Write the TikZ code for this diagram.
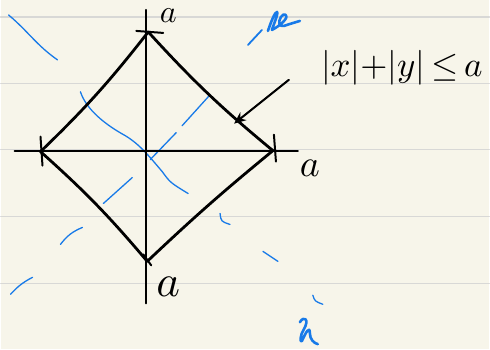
\documentclass[tikz,border=0pt]{standalone}
\usepackage{amsmath,amssymb,graphicx}
\usepackage{xcolor,tikz}
\usetikzlibrary{arrows.meta}
\definecolor{paper}{RGB}{247,245,234}
\definecolor{rule}{RGB}{216,216,214}
\definecolor{inkblue}{RGB}{24,122,232}
\newcommand{\inklbl}[2]{\scalebox{#1}{$#2$}}

\begin{document}
\begin{tikzpicture}[x=1pt,y=-1pt,line cap=round,line join=round,
  ink/.style={black,line width=2.8pt},
  axis/.style={black,line width=2pt},
  hint/.style={inkblue,line width=1.3pt},
  lbl/.style={inner sep=0pt}]
 \fill[paper] (0,0) rectangle (490,350);
 \foreach \y in {17,84,150,217,284}
   {\draw[rule,line width=1.2pt] (0,\y) -- (490,\y);}
 % blue marks
 \draw[hint] (8,15) to[out=-40,in=145] (57,60);
 \draw[hint] (80,92) .. controls (86,110) and (105,125) .. (125,136)
   .. controls (140,145) and (150,158) .. (162,172) .. controls (170,183) .. (188,194);
 \draw[hint] (150,160) -- (176,133);
 \draw[hint] (182,126) -- (210,95);
 \draw[hint] (103,204) -- (132,178);
 \draw[hint] (60,245) to[bend left=15] (82,228);
 \draw[hint] (10,295) to[bend left=10] (32,278);
 \draw[hint] (220,214) .. controls (221,222) .. (230,225);
 \draw[hint] (263,252) -- (278,262);
 \draw[hint] (313,296) .. controls (315,302) .. (323,305);
 \draw[inkblue,line width=1.8pt] (248,45) -- (262,30);
 \draw[inkblue,line width=2.6pt] (268,31) .. controls (271,22) and (275,12) .. (277,12)
   .. controls (279,13) and (273,26) .. (272,30) .. controls (276,28) and (282,24) .. (285,20)
   .. controls (289,15) and (284,12) .. (281,17) .. controls (278,22) and (279,27) .. (284,26)
   .. controls (290,24) .. (300,21);
 \draw[inkblue,line width=2.6pt] (300,323) .. controls (304,316) and (310,320) .. (304,330)
   .. controls (300,336) and (300,344) .. (302,342) .. controls (306,333) and (310,326) .. (310,334)
   .. controls (310,340) and (314,344) .. (318,345);
 % axes
 \coordinate (ytop) at (146,10);
 \coordinate (ybot) at (146,304);
 \coordinate (xl) at (14,151);
 \coordinate (xr) at (298,151);
 \draw[axis] (ybot) -- (ytop);
 \draw[axis] (xl) -- (xr);
 % diamond
 \coordinate (T) at (148,32);
 \coordinate (L) at (40,152);
 \coordinate (R) at (273,151);
 \coordinate (B) at (147,262);
 \draw[ink] (T) to[bend left=4] (L);
 \draw[ink] (L) to[bend left=4] (B);
 \draw[ink] (B) to[bend left=2] (R);
 \draw[ink] (R) to[bend left=4] (T);
 \draw[ink,line width=2pt] (136,31) -- (163,33);
 \draw[ink,line width=2pt] (40,137) -- (42,166);
 \draw[ink,line width=2pt] (274,135) -- (276,162);
 \draw[ink,line width=2pt] (143,255) -- (151,266);
 % labels
 \node[lbl] (atop) at (168,16) {\inklbl{3.2}{a}};
 \node[lbl] (aright) at (310,169) {\inklbl{3.8}{a}};
 \node[lbl] (abot) at (168,288) {\inklbl{4.5}{a}};
 \node[lbl,anchor=west] (region) at (321,68) {\inklbl{3.5}{|x|{+}|y|\,{\le}\,a}};
 \coordinate (tip) at (234,124);
 \draw[ink,line width=2pt,-{Stealth[length=12pt,width=10pt]}] (289,80) -- (tip);
\end{tikzpicture}
\end{document}
